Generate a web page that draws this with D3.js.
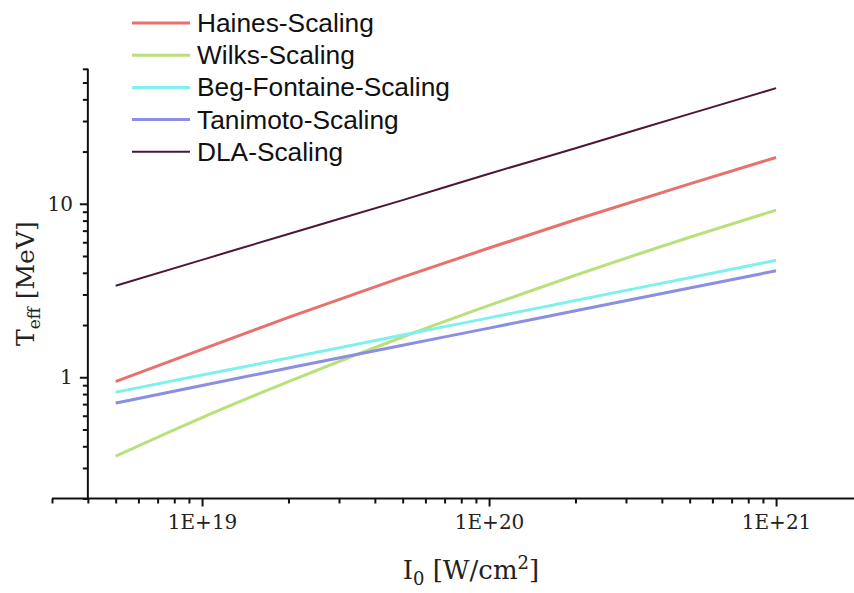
<!DOCTYPE html>
<html>
<head>
<meta charset="utf-8">
<script src="https://cdn.jsdelivr.net/npm/d3@7"></script>
<style>
  html, body { margin: 0; padding: 0; background: #fff; }
  svg { display: block; }
</style>
</head>
<body>
<svg id="chart" width="854" height="593"></svg>
<script>
// Laser intensity I0 [W/cm^2] at which each scaling is evaluated
const intensities = [5e18, 1e19, 2e19, 5e19, 1e20, 2e20, 5e20, 1e21];

// Effective hot-electron temperature T_eff [MeV] per scaling law
const hainesValues   = [0.944, 1.449, 2.213, 3.776, 5.559, 8.09, 13.03, 18.49];
const wilksValues    = [0.351, 0.586, 0.944, 1.706, 2.594, 3.873, 6.412, 9.20];
const begValues      = [0.82, 1.03, 1.29, 1.75, 2.20, 2.77, 3.75, 4.72];
const tanimotoValues = [0.71, 0.897, 1.13, 1.53, 1.92, 2.42, 3.27, 4.11];
const dlaValues      = [3.37, 4.75, 6.70, 10.5, 14.9, 20.9, 33.0, 46.4];

const seriesNames = ["Haines-Scaling", "Wilks-Scaling", "Beg-Fontaine-Scaling", "Tanimoto-Scaling", "DLA-Scaling"];
const seriesData  = [hainesValues, wilksValues, begValues, tanimotoValues, dlaValues];
const seriesColors = ["#e8716e", "#b9e07b", "#80f0ee", "#8a8fe3", "#4d1537"];
const seriesWidths = [3, 3, 3, 3, 2];

const xMajorTicks = [1e19, 1e20, 1e21];
const xTickLabels = ["1E+19", "1E+20", "1E+21"];
const yMajorTicks = [1, 10];
const yTickLabels = ["1", "10"];

const svg = d3.select("#chart");

// Log-log scales
const xDomain = [3e18, 2e21];
const decadeX = 287;
const x = d3.scaleLog()
  .domain(xDomain)
  .range([52, 52 + decadeX * Math.log10(xDomain[1] / xDomain[0])]);

const y = d3.scaleLog()
  .domain([0.2, 60])
  .range([498.5, 68.8]);

const yAxisAt = x(4e18);
const xAxisAt = y(0.2);

const serif = "'DejaVu Serif', 'Liberation Serif', serif";

// Minor tick values: 2..9 within each decade
function minorTicks(lo, hi) {
  const out = [];
  for (let e = Math.floor(Math.log10(lo)) - 1; e <= Math.ceil(Math.log10(hi)); e++) {
    for (let m = 2; m <= 9; m++) {
      const v = m * Math.pow(10, e);
      if (v >= lo * 0.999 && v <= hi * 1.001) out.push(v);
    }
  }
  return out;
}

// X axis
const xAxisG = svg.append("g").attr("transform", `translate(0,${xAxisAt})`);
xAxisG.call(d3.axisBottom(x).tickValues(minorTicks(3e18, 2e21)).tickSize(5).tickFormat(""))
  .call(g => g.select(".domain").remove());
xAxisG.append("g").call(d3.axisBottom(x).tickValues(xMajorTicks).tickSize(8)
    .tickFormat((d, i) => xTickLabels[i]).tickPadding(8))
  .call(g => g.select(".domain").remove())
  .call(g => g.selectAll("text").attr("font-family", serif).attr("font-size", 20).attr("fill", "#222"));
xAxisG.append("line")
  .attr("x1", x.range()[0]).attr("x2", x.range()[1])
  .attr("stroke", "#111").attr("stroke-width", 2);
xAxisG.selectAll(".tick line").attr("stroke", "#111").attr("stroke-width", 2);

// Y axis
const yAxisG = svg.append("g").attr("transform", `translate(${yAxisAt},0)`);
yAxisG.call(d3.axisLeft(y).tickValues(minorTicks(0.2, 60)).tickSize(5).tickFormat(""))
  .call(g => g.select(".domain").remove());
yAxisG.append("g").call(d3.axisLeft(y).tickValues(yMajorTicks).tickSize(8)
    .tickFormat((d, i) => yTickLabels[i]).tickPadding(7))
  .call(g => g.select(".domain").remove())
  .call(g => g.selectAll("text").attr("font-family", serif).attr("font-size", 20).attr("fill", "#222"));
yAxisG.append("line")
  .attr("y1", y.range()[0] + 1).attr("y2", y.range()[1])
  .attr("stroke", "#111").attr("stroke-width", 2);
yAxisG.selectAll(".tick line").attr("stroke", "#111").attr("stroke-width", 2);

// Series lines
const line = d3.line()
  .x((d, i) => x(intensities[i]))
  .y(d => y(d))
  .curve(d3.curveMonotoneX);

seriesData.forEach((vals, k) => {
  svg.append("path")
    .datum(vals)
    .attr("d", line)
    .attr("fill", "none")
    .attr("stroke", seriesColors[k])
    .attr("stroke-width", seriesWidths[k])
    .attr("stroke-linecap", "butt");
});

// Legend
const legend = svg.append("g").attr("transform", "translate(132,23)");
seriesNames.forEach((name, k) => {
  const row = legend.append("g").attr("transform", `translate(0,${k * 32.2})`);
  row.append("line")
    .attr("x1", 0).attr("x2", 58)
    .attr("stroke", seriesColors[k])
    .attr("stroke-width", seriesWidths[k]);
  row.append("text")
    .attr("x", 65).attr("y", 9)
    .attr("font-family", "'Liberation Sans', Arial, sans-serif")
    .attr("font-size", 26.3)
    .attr("fill", "#111")
    .text(name);
});

// Axis titles
const xTitle = svg.append("text")
  .attr("x", (yAxisAt + 854) / 2).attr("y", 579)
  .attr("text-anchor", "middle")
  .attr("font-family", serif).attr("font-size", 26).attr("fill", "#222");
xTitle.append("tspan").text("I");
xTitle.append("tspan").attr("font-size", 18).attr("dy", 6).text("0");
xTitle.append("tspan").attr("dy", -6).text(" [W/cm");
xTitle.append("tspan").attr("font-size", 18).attr("dy", -10).text("2");
xTitle.append("tspan").attr("dy", 10).text("]");

const yTitle = svg.append("text")
  .attr("transform", `translate(34,${(y.range()[0] + y.range()[1]) / 2}) rotate(-90)`)
  .attr("text-anchor", "middle")
  .attr("font-family", serif).attr("font-size", 25).attr("fill", "#222");
yTitle.append("tspan").text("T");
yTitle.append("tspan").attr("font-size", 17).attr("dy", 6).text("eff");
yTitle.append("tspan").attr("dy", -6).text(" [MeV]");
</script>
</body>
</html>
